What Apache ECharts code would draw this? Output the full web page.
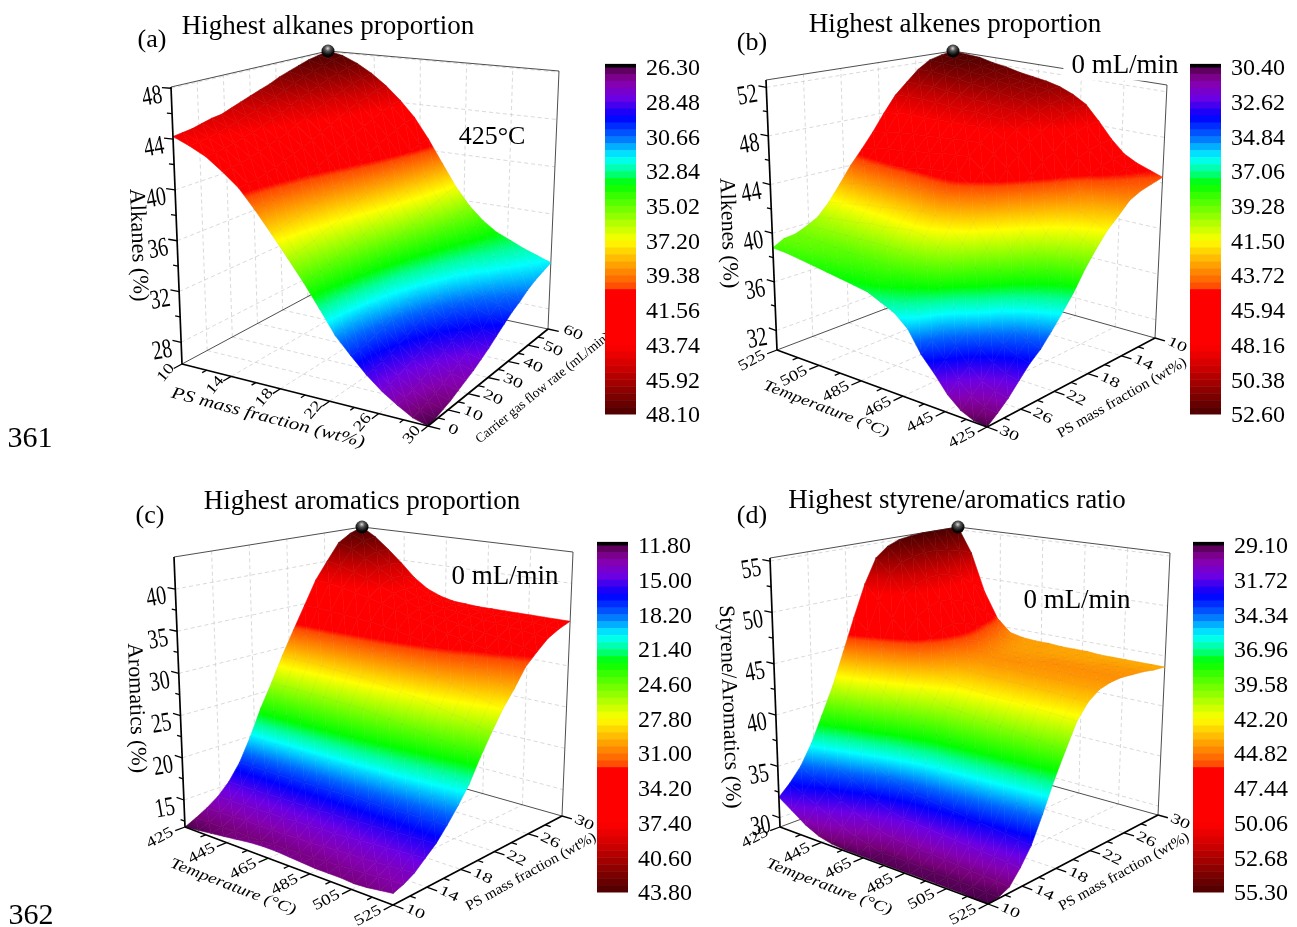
<!DOCTYPE html>
<html><head><meta charset="utf-8">
<style>html,body{margin:0;padding:0;background:#fff}#c{width:1297px;height:927px}</style>
<script src="https://cdn.jsdelivr.net/npm/echarts@6/dist/echarts.min.js"></script>
</head><body><div id="c"></div>
<script>
// Surface heights. Rows run from the left-front edge to the back-right edge.
const alkanesGrid = [
[44.2,43.6,42.9,41.9,40.8,39.3,37.7,36.1,34.5,32.8,31.1,29.9,28.8,27.9,27.2,26.6,26.3],
[44.3,43.7,43.0,42.0,40.9,39.4,37.8,36.2,34.6,32.9,31.2,30.0,28.9,28.0,27.3,26.7,26.4],
[44.4,43.8,43.1,42.1,41.0,39.5,38.0,36.3,34.7,33.0,31.3,30.1,29.0,28.2,27.5,26.9,26.6],
[44.6,44.0,43.3,42.3,41.2,39.7,38.2,36.5,34.9,33.2,31.5,30.3,29.2,28.4,27.7,27.1,26.8],
[44.8,44.2,43.5,42.5,41.4,40.0,38.4,36.8,35.1,33.4,31.7,30.5,29.5,28.6,28.0,27.4,27.1],
[44.9,44.4,43.7,42.8,41.7,40.2,38.7,37.0,35.4,33.6,32.0,30.8,29.7,28.9,28.3,27.7,27.4],
[45.2,44.7,44.0,43.0,42.0,40.5,39.0,37.3,35.6,33.9,32.2,31.1,30.0,29.2,28.6,28.0,27.7],
[45.5,44.9,44.3,43.3,42.3,40.9,39.3,37.7,35.9,34.2,32.5,31.4,30.4,29.6,29.0,28.4,28.1],
[45.8,45.3,44.6,43.7,42.6,41.3,39.7,38.1,36.3,34.5,32.9,31.7,30.8,30.0,29.4,28.9,28.5],
[46.1,45.6,45.0,44.1,43.0,41.7,40.2,38.5,36.7,34.9,33.3,32.1,31.2,30.4,29.8,29.3,29.0],
[46.4,46.0,45.4,44.5,43.4,42.1,40.6,38.9,37.1,35.3,33.7,32.5,31.6,30.9,30.3,29.9,29.5],
[46.8,46.4,45.7,44.9,43.8,42.5,41.1,39.3,37.5,35.6,34.1,32.9,32.0,31.4,30.8,30.4,30.0],
[47.1,46.7,46.1,45.2,44.2,42.9,41.5,39.7,37.8,36.0,34.4,33.3,32.4,31.8,31.3,30.8,30.4],
[47.4,47.0,46.4,45.6,44.6,43.3,41.9,40.1,38.2,36.3,34.8,33.7,32.8,32.3,31.7,31.3,30.9],
[47.7,47.3,46.7,45.9,44.9,43.7,42.2,40.5,38.5,36.6,35.1,34.0,33.2,32.6,32.1,31.7,31.3],
[47.9,47.6,47.0,46.2,45.2,44.0,42.6,40.8,38.8,36.9,35.4,34.3,33.5,32.9,32.4,32.0,31.6],
[48.1,47.8,47.2,46.4,45.4,44.2,42.8,41.0,39.0,37.1,35.6,34.5,33.7,33.2,32.7,32.3,31.9]];
const alkenesGrid = [
[38.8,38.7,38.5,38.3,38.1,37.9,37.7,37.5,37.0,36.5,35.6,34.0,32.9,31.7,30.9,30.5,30.4],
[39.3,39.2,39.1,38.9,38.8,38.6,38.4,38.3,37.8,37.3,36.4,34.8,33.6,32.4,31.6,31.1,31.0],
[39.4,39.4,39.3,39.2,39.1,39.1,39.0,38.9,38.5,38.0,37.1,35.5,34.3,33.1,32.3,31.9,31.7],
[39.8,39.9,39.9,39.9,39.9,39.9,39.9,39.9,39.6,39.1,38.2,36.5,35.3,34.1,33.3,32.8,32.6],
[40.3,40.5,40.6,40.7,40.9,40.9,41.1,41.2,41.0,40.4,39.4,37.8,36.5,35.2,34.3,33.8,33.5],
[41.3,41.5,41.7,41.9,42.0,42.2,42.3,42.5,42.4,41.7,40.7,39.0,37.6,36.2,35.2,34.6,34.2],
[42.6,42.9,43.1,43.3,43.5,43.6,43.8,44.0,44.0,43.2,42.1,40.3,38.8,37.4,36.4,35.7,35.2],
[44.0,44.3,44.5,44.7,44.8,45.0,45.2,45.3,45.3,44.5,43.4,41.7,40.1,38.6,37.6,36.9,36.3],
[45.2,45.5,45.7,45.8,46.0,46.1,46.3,46.4,46.5,45.6,44.6,42.8,41.2,39.8,38.7,38.0,37.5],
[46.5,46.7,46.9,47.0,47.1,47.2,47.3,47.4,47.4,46.7,45.7,44.1,42.5,41.1,40.2,39.5,39.0],
[48.0,48.2,48.3,48.2,48.3,48.3,48.3,48.4,48.3,47.6,46.6,45.1,43.5,42.2,41.4,40.8,40.3],
[49.4,49.5,49.5,49.4,49.3,49.2,49.2,49.1,49.0,48.3,47.5,46.0,44.5,43.3,42.5,42.0,41.5],
[50.4,50.4,50.4,50.2,50.1,49.9,49.8,49.7,49.5,48.9,48.1,46.6,45.1,43.9,43.2,42.8,42.4],
[51.4,51.4,51.3,51.1,50.9,50.7,50.5,50.3,50.1,49.5,48.8,47.5,46.1,44.9,44.3,43.8,43.4],
[52.1,52.0,51.9,51.6,51.5,51.2,51.0,50.8,50.5,49.9,49.2,47.9,46.5,45.4,44.8,44.3,43.9],
[52.4,52.3,52.2,51.9,51.7,51.4,51.2,51.0,50.8,50.2,49.5,48.2,46.8,45.7,45.1,44.6,44.2],
[52.6,52.5,52.4,52.1,51.9,51.6,51.4,51.2,50.9,50.4,49.7,48.4,47.0,45.9,45.3,44.9,44.5]];
const aromaticsGrid = [
[11.8,12.0,12.2,12.4,12.6,12.8,12.9,12.9,12.8,12.7,12.6,12.6,12.6,12.5,12.6,12.8,13.0],
[12.4,12.4,12.4,12.5,12.5,12.5,12.6,12.6,12.7,12.7,12.8,12.9,13.0,13.1,13.2,13.3,13.4],
[13.1,13.1,13.1,13.2,13.2,13.2,13.2,13.3,13.3,13.4,13.5,13.6,13.6,13.7,13.8,13.9,14.0],
[14.0,14.0,14.0,14.1,14.1,14.1,14.2,14.2,14.3,14.3,14.4,14.5,14.6,14.7,14.8,14.9,15.0],
[15.3,15.3,15.3,15.3,15.4,15.4,15.4,15.4,15.5,15.5,15.6,15.7,15.7,15.8,15.9,15.9,16.0],
[17.2,17.2,17.2,17.2,17.2,17.2,17.2,17.2,17.3,17.3,17.3,17.3,17.3,17.3,17.4,17.4,17.4],
[19.9,19.9,19.9,19.8,19.8,19.8,19.8,19.7,19.7,19.6,19.5,19.5,19.4,19.3,19.2,19.1,19.0],
[23.1,23.1,23.0,23.0,22.9,22.8,22.7,22.6,22.5,22.3,22.1,22.0,21.7,21.5,21.3,21.0,20.8],
[25.9,25.8,25.8,25.7,25.7,25.6,25.5,25.4,25.2,25.0,24.8,24.6,24.3,24.1,23.8,23.6,23.3],
[29.0,28.9,28.9,28.8,28.7,28.6,28.5,28.3,28.1,27.8,27.6,27.3,27.0,26.6,26.3,25.9,25.6],
[31.9,31.8,31.7,31.7,31.5,31.4,31.2,31.0,30.8,30.5,30.2,29.9,29.4,29.0,28.6,28.2,27.8],
[34.8,34.7,34.6,34.5,34.3,34.2,34.0,33.7,33.4,33.0,32.6,32.2,31.7,31.2,30.6,30.1,29.6],
[37.8,37.6,37.3,37.0,36.6,36.2,35.7,35.2,34.7,34.3,33.9,33.6,33.2,32.9,32.5,32.1,31.7],
[40.0,39.6,39.1,38.5,37.8,37.1,36.4,35.8,35.3,35.0,34.7,34.4,34.2,33.9,33.6,33.3,33.0],
[42.2,41.6,40.6,39.6,38.5,37.4,36.6,36.1,35.7,35.5,35.3,35.1,34.9,34.8,34.6,34.4,34.2],
[43.2,42.4,41.2,39.9,38.5,37.3,36.6,36.1,35.8,35.6,35.5,35.3,35.3,35.2,35.1,35.0,34.9],
[43.8,42.7,41.2,39.6,37.9,36.7,36.0,35.6,35.5,35.4,35.4,35.4,35.4,35.4,35.4,35.4,35.4]];
const styreneGrid = [
[32.0,31.1,30.2,29.6,29.3,29.2,29.2,29.2,29.2,29.2,29.2,29.2,29.2,29.2,29.2,29.1,29.1],
[33.0,32.4,31.7,31.1,30.5,30.0,29.7,29.4,29.4,29.4,29.4,29.3,29.3,29.3,29.3,29.2,29.2],
[34.3,33.6,32.9,32.2,31.6,31.0,30.6,30.3,30.2,30.1,30.1,30.0,29.9,29.8,29.8,29.7,29.6],
[36.2,35.4,34.6,33.9,33.1,32.5,32.0,31.7,31.6,31.5,31.4,31.3,31.2,31.1,31.0,30.9,30.8],
[38.7,37.8,36.9,36.1,35.3,34.5,34.0,33.6,33.5,33.3,33.2,33.0,32.9,32.7,32.6,32.4,32.3],
[41.3,40.4,39.5,38.7,37.8,37.1,36.6,36.1,35.9,35.8,35.6,35.4,35.3,35.1,34.9,34.8,34.6],
[44.5,43.5,42.4,41.4,40.4,39.6,39.0,38.5,38.4,38.2,38.1,37.9,37.8,37.6,37.5,37.3,37.2],
[47.8,46.6,45.3,44.2,43.0,42.0,41.3,40.8,40.7,40.5,40.4,40.2,40.1,39.9,39.8,39.6,39.5],
[51.0,49.5,47.9,46.6,45.2,43.9,43.1,42.6,42.5,42.4,42.3,42.3,42.2,42.1,42.0,41.9,41.8],
[53.5,52.0,50.1,48.1,46.2,44.7,44.0,43.7,43.6,43.6,43.5,43.5,43.4,43.4,43.3,43.3,43.2],
[54.5,53.0,50.9,48.8,46.8,45.2,44.5,44.2,44.2,44.1,44.1,44.1,44.1,44.1,44.0,44.0,44.0],
[55.0,53.4,51.3,49.2,47.0,45.5,44.7,44.4,44.4,44.4,44.3,44.3,44.3,44.3,44.3,44.3,44.3],
[55.2,53.6,51.4,49.0,46.8,45.3,44.6,44.3,44.3,44.3,44.4,44.4,44.4,44.4,44.4,44.4,44.4],
[55.3,53.6,51.2,48.6,46.3,45.0,44.4,44.2,44.2,44.2,44.3,44.3,44.3,44.3,44.3,44.3,44.3],
[55.3,53.4,50.6,47.8,45.7,44.7,44.2,44.1,44.1,44.1,44.1,44.1,44.1,44.2,44.2,44.2,44.2],
[55.3,53.1,49.7,46.8,45.1,44.4,44.1,44.1,44.0,44.0,44.0,44.0,44.0,44.0,44.0,44.0,44.0],
[55.3,52.6,48.5,45.8,44.5,44.2,44.1,44.1,44.0,44.0,44.0,43.9,43.9,43.9,43.9,43.9,43.9]];

const alkanesBar = ['26.30','28.48','30.66','32.84','35.02','37.20','39.38','41.56','43.74','45.92','48.10'];
const alkenesBar = ['30.40','32.62','34.84','37.06','39.28','41.50','43.72','45.94','48.16','50.38','52.60'];
const aromaticsBar = ['11.80','15.00','18.20','21.40','24.60','27.80','31.00','34.20','37.40','40.60','43.80'];
const styreneBar = ['29.10','31.72','34.34','36.96','39.58','42.20','44.82','47.44','50.06','52.68','55.30'];
const psUp = [10,14,18,22,26,30];
const psDown = [30,26,22,18,14,10];
const flowTicks = [0,10,20,30,40,50,60];
const tempUp = [425,445,465,485,505,525];
const tempDown = [525,505,485,465,445,425];

const cmapPos = [0,.02,.05,.09,.145,.20,.262,.30,.336,.50,.60,.635,.65,.80,.86,1];
const cmapCol = ['#480048','#760078','#8400b0','#6c00e4','#0000ff','#0064ff','#00ffff','#00ff96','#00ff00','#ffff00','#ff7a00','#ff4800','#ff0000','#ff0000','#d40000','#4a0000'];
const BANDS = 50;

// Corners of the plot box: [floor, top] on the canvas, used only as the projection.
const panels = [
 {grid:alkanesGrid, bar:alkanesBar, uT:psUp, vT:flowTicks, zT:[28,32,36,40,44,48],
  L:[[182,364],[171,87]], F:[[428,426],[432,106]], R:[[548,329],[559,71]], B:[[333,283],[328,51]],
  cb:[605,69,31,347], uRot:50, uOff:[-16,9], vOff:[25,4], vRot:-24,
  uTitle:['PS mass fraction (wt%)',268,418,-14.5,21,1], vTitle:['Carrier gas flow rate (mL/min)',543,388,39,17,.8], zTitle:['Alkanes (%)',138,245,-88,22.5,1]},
 {grid:alkenesGrid, bar:alkenesBar, uT:tempDown, vT:psDown, zT:[32,36,40,44,48,52],
  L:[[777,350],[766,80]], F:[[987,427],[991,118]], R:[[1155,338],[1167,85]], B:[[956,282],[953,51]],
  cb:[1190,69,31,347], uRot:28, uOff:[-25,11], vOff:[22,7], vRot:-26,
  uTitle:['Temperature (°C)',826,409,-21,19,1], vTitle:['PS mass fraction (wt%)',1122,398,30,18,.86], zTitle:['Alkenes (%)',728,233,-88,22,1]},
 {grid:aromaticsGrid, bar:aromaticsBar, uT:tempUp, vT:psUp, zT:[15,20,25,30,35,40],
  L:[[185,827],[174,557]], F:[[393,905],[397,596]], R:[[562,816],[573,552]], B:[[364,760],[362,527]],
  cb:[597,547,31,347], uRot:28, uOff:[-25,11], vOff:[22,7], vRot:-26,
  uTitle:['Temperature (°C)',233,887,-21,19,1], vTitle:['PS mass fraction (wt%)',531,872,29,18,.86], zTitle:['Aromatics (%)',136,708,-88,22,1]},
 {grid:styreneGrid, bar:styreneBar, uT:tempUp, vT:psUp, zT:[30,35,40,45,50,55],
  L:[[780,827],[770,558]], F:[[988,904],[992,596]], R:[[1158,815],[1170,553]], B:[[960,760],[958,527]],
  cb:[1193,547,31,347], uRot:28, uOff:[-25,11], vOff:[22,7], vRot:-26,
  uTitle:['Temperature (°C)',829,887,-21,19,1], vTitle:['PS mass fraction (wt%)',1124,872,29,18,.86], zTitle:['Styrene/Aromatics (%)',729,707,-88,22,1]}
];
const notes = [
 ['(a)',152,40,26],['(b)',752,43,26],['(c)',150,516,26],['(d)',752,516,26],
 ['425°C',492,137,26],['0 mL/min',505,577,27],['0 mL/min',1077,601,27],
 ['361',30,439,30],['362',31,916,30]];
const titles = [['Highest alkanes proportion',328,13.5],['Highest alkenes proportion',955,11.5],
 ['Highest aromatics proportion',362,488.5],['Highest styrene/aromatics ratio',957,487.5]];
const FONT = '"Liberation Serif","Times New Roman",serif';

function hex(c){return [parseInt(c.slice(1,3),16),parseInt(c.slice(3,5),16),parseInt(c.slice(5,7),16)];}
function cmap(t){
  t=Math.max(0,Math.min(1,t));
  for(let i=1;i<cmapPos.length;i++) if(t<=cmapPos[i]){
    const a=hex(cmapCol[i-1]),b=hex(cmapCol[i]),k=(t-cmapPos[i-1])/(cmapPos[i]-cmapPos[i-1]);
    return 'rgb('+a.map((v,n)=>Math.round(v+(b[n]-v)*k)).join(',')+')';
  }
  return cmapCol[cmapCol.length-1];
}
function project(p,u,v,f){
  const bil=s=>[0,1].map(k=>(1-v)*((1-u)*p.L[s][k]+u*p.F[s][k])+v*((1-u)*p.B[s][k]+u*p.R[s][k]));
  const a=bil(0),b=bil(1);
  return [a[0]+(b[0]-a[0])*f,a[1]+(b[1]-a[1])*f];
}
panels.forEach(p=>{
  p.zMin=parseFloat(p.bar[0]);p.zMax=parseFloat(p.bar[p.bar.length-1]);
  p.fr=z=>(z-p.zMin)/(p.zMax-p.zMin);
});

function triStyle(pts,fs){
  const [a,b,c]=pts;
  const lo=Math.min(fs[0],fs[1],fs[2]),hi=Math.max(fs[0],fs[1],fs[2]);
  const solid=()=>{const col=cmap((lo+hi)/2);return {fill:col,stroke:col,lineWidth:.6};};
  if(hi-lo<1e-4) return solid();
  const d1=[b[0]-a[0],b[1]-a[1]],d2=[c[0]-a[0],c[1]-a[1]],e1=fs[1]-fs[0],e2=fs[2]-fs[0];
  const det=d1[0]*d2[1]-d1[1]*d2[0];
  if(Math.abs(det)<1e-6) return solid();
  const gx=(e1*d2[1]-e2*d1[1])/det,gy=(d1[0]*e2-d2[0]*e1)/det,g2=gx*gx+gy*gy;
  const s=pts[fs.indexOf(lo)],dz=hi-lo;
  const stops=[{offset:0,color:cmap(lo)}];
  cmapPos.forEach(q=>{if(q>lo&&q<hi)stops.push({offset:(q-lo)/dz,color:cmap(q)});});
  stops.push({offset:1,color:cmap(hi)});
  const grad=new echarts.graphic.LinearGradient(s[0],s[1],s[0]+gx/g2*dz,s[1]+gy/g2*dz,stops,true);
  return {fill:grad,stroke:grad,lineWidth:.6};
}

function surfaceSeries(p){
  const n=p.grid.length-1,m=p.grid[0].length-1,data=[];
  const P=(i,j)=>[i/m,j/n,p.fr(p.grid[j][i])];
  for(let j=n-1;j>=0;j--) for(let i=0;i<m;i++){
    const a=P(i,j+1),b=P(i+1,j+1),c=P(i+1,j),d=P(i,j);
    data.push([...a,...b,...c],[...a,...c,...d]);
  }
  return {type:'custom',coordinateSystem:'cartesian2d',xAxisIndex:0,yAxisIndex:0,silent:true,animation:false,progressive:0,clip:false,
    encode:{x:0,y:1},data,
    renderItem(params,api){
      const pts=[],fs=[];
      for(let k=0;k<3;k++){
        const f=api.value(3*k+2);
        pts.push(api.coord(project(p,api.value(3*k),api.value(3*k+1),f)));fs.push(f);
      }
      return {type:'polygon',shape:{points:pts},style:triStyle(pts,fs),silent:true};
    }};
}
function meshLines(p){
  const n=p.grid.length-1,m=p.grid[0].length-1,out=[];
  for(let j=0;j<=n;j++){const l=[];for(let i=0;i<=m;i++)l.push(project(p,i/m,j/n,p.fr(p.grid[j][i])));out.push(l);}
  for(let i=0;i<=m;i++){const l=[];for(let j=0;j<=n;j++)l.push(project(p,i/m,j/n,p.fr(p.grid[j][i])));out.push(l);}
  return out.map(l=>({k:'l',pts:l,st:{stroke:'rgba(40,40,40,.07)',lineWidth:.5,fill:null}}));
}
const seg=(p,a,b,st)=>({k:'l',pts:[project(p,...a),project(p,...b)],st:Object.assign({fill:null},st)});
const thin={stroke:'#3a3a3a',lineWidth:.9},dash={stroke:'#cfcfcf',lineWidth:.8,lineDash:[4,3]},thick={stroke:'#000',lineWidth:1.7},tk={stroke:'#000',lineWidth:1.3};

function backItems(p){
  const o=[];
  p.zT.forEach(z=>{const f=p.fr(z);o.push(seg(p,[0,0,f],[0,1,f],dash),seg(p,[0,1,f],[1,1,f],dash));});
  p.uT.forEach((_,i)=>{const u=i/(p.uT.length-1);if(i>0&&i<p.uT.length-1)o.push(seg(p,[u,1,0],[u,1,1],dash),seg(p,[u,0,0],[u,1,0],dash));});
  p.vT.forEach((_,i)=>{const v=i/(p.vT.length-1);if(i>0&&i<p.vT.length-1)o.push(seg(p,[0,v,0],[0,v,1],dash),seg(p,[0,v,0],[1,v,0],dash));});
  o.push(seg(p,[0,0,1],[0,1,1],thin),seg(p,[0,1,1],[1,1,1],thin),seg(p,[1,1,0],[1,1,1],thin),
         seg(p,[0,0,0],[0,1,0],thin),seg(p,[0,1,0],[1,1,0],thin));
  return o;
}
function frontItems(p){
  const o=meshLines(p);
  o.push(seg(p,[0,0,0],[0,0,1],thick),seg(p,[0,0,0],[1,0,0],thick),seg(p,[1,0,0],[1,1,0],thick));
  const txt=(t,q,size,rot,sx,sy,align,extra)=>o.push(Object.assign({k:'t',t,q,size,rot,sx,sy,align},extra||{}));
  const nu=p.uT.length-1,nv=p.vT.length-1;
  for(let i=0;i<=2*nu;i++){const u=i/(2*nu),major=i%2===0;o.push(seg(p,[u,0,0],[u,major?-.055:-.03,0],tk));
    if(major){const q=project(p,u,0,0);txt(String(p.uT[i/2]),[q[0]+p.uOff[0],q[1]+p.uOff[1]],19,p.uRot,1,.8,'center');}}
  for(let i=0;i<=2*nv;i++){const v=i/(2*nv),major=i%2===0;o.push(seg(p,[1,v,0],[major?1.05:1.028,v,0],tk));
    if(major){const q=project(p,1,v,0);txt(String(p.vT[i/2]),[q[0]+p.vOff[0],q[1]+p.vOff[1]],20,p.vRot,1,.7,'center');}}
  const zs=p.zT,dz=zs[1]-zs[0];
  zs.forEach(z=>{const f=p.fr(z);o.push(seg(p,[0,0,f],[-.035,0,f],tk));
    const q=project(p,0,0,f);txt(String(z),[q[0]-9,q[1]+7],27,10,.74,1,'right');
    const m=p.fr(z-dz/2);if(m>=0){o.push(seg(p,[0,0,m],[-.02,0,m],tk));}});
  const T=(a,ital,sy)=>txt(a[0],[a[1],a[2]],a[4],a[3],a[5],sy,'center',{italic:ital});
  T(p.uTitle,true,.8);T(p.vTitle,false,.8);T(p.zTitle,false,1);
  o.push({k:'ball',q:project(p,0,1,1)});
  return o;
}
function overlaySeries(items){
  return {type:'custom',coordinateSystem:'cartesian2d',xAxisIndex:0,yAxisIndex:0,silent:true,animation:false,progressive:0,clip:false,
    encode:{x:0,y:1},data:items.map((_,i)=>[i,i]),
    renderItem(params,api){
      const it=items[params.dataIndex];
      if(it.k==='l') return {type:'polyline',shape:{points:it.pts.map(q=>api.coord(q))},style:it.st,silent:true};
      if(it.k==='ball'){const c=api.coord(it.q);return {type:'circle',shape:{cx:c[0],cy:c[1],r:6.5},silent:true,
        style:{fill:new echarts.graphic.RadialGradient(.48,.3,.62,[{offset:0,color:'#d8d8d8'},{offset:.35,color:'#555'},{offset:.8,color:'#0c0c0c'},{offset:1,color:'#000'}])}};}
      const c=api.coord(it.q);
      return {type:'text',x:c[0],y:c[1],rotation:it.rot*Math.PI/180,scaleX:it.sx,scaleY:it.sy,silent:true,
        style:{text:it.t,fill:'#000',align:it.align,verticalAlign:'middle',font:(it.italic?'italic ':'')+it.size+'px '+FONT,
          backgroundColor:it.bg||null,padding:it.bg?[1,8,1,8]:0}};
    }};
}
const noteItems=notes.map(n=>({k:'t',t:n[0],q:[n[1],n[2]],size:n[3],rot:0,sx:1,sy:1,align:'center'}));
noteItems.push({k:'t',t:'0 mL/min',q:[1125,66],size:27,rot:0,sx:1,sy:1,align:'center',bg:'#fff'});

const grids=[{left:0,top:0,width:1297,height:927}],xAxes=[{type:'value',min:0,max:1297,show:false,gridIndex:0}],
  yAxes=[{type:'value',min:0,max:927,inverse:true,show:false,gridIndex:0}],series=[];
panels.forEach(p=>series.push(overlaySeries(backItems(p))));
panels.forEach(p=>series.push(surfaceSeries(p)));
panels.forEach(p=>series.push(overlaySeries(frontItems(p))));
series.push(overlaySeries(noteItems));
panels.forEach((p,i)=>{
  const g=i+1;
  grids.push({left:p.cb[0],top:p.cb[1],width:p.cb[2],height:p.cb[3]});
  xAxes.push({type:'value',min:0,max:1,show:false,gridIndex:g});
  yAxes.push({type:'value',gridIndex:g,position:'right',inverse:true,min:p.zMin,max:p.zMax,
    splitLine:{show:false},axisLine:{show:false},axisTick:{show:false},
    axisLabel:{customValues:p.bar.map(Number),formatter:v=>v.toFixed(2),margin:10,fontSize:24,color:'#000',fontFamily:FONT,showMinLabel:true,showMaxLabel:true}});
  const span=p.zMax-p.zMin,data=[];
  for(let n=0;n<BANDS;n++) data.push([0,p.zMin+span*n/BANDS,p.zMin+span*(n+1)/BANDS,(n+.5)/BANDS]);
  data.push([0,p.zMin-span*.009,p.zMin,-1]);
  series.push({type:'custom',coordinateSystem:'cartesian2d',xAxisIndex:g,yAxisIndex:g,silent:true,animation:false,clip:false,
    encode:{x:0,y:1},data,
    renderItem(params,api){
      const a=api.coord([0,api.value(1)]),b=api.coord([1,api.value(2)]),t=api.value(3);
      return {type:'rect',shape:{x:a[0],y:a[1]-2,width:b[0]-a[0],height:b[1]-a[1]+.5},style:{fill:t<0?'#000':cmap(t)},silent:true};
    }});
});
const chart=echarts.init(document.getElementById('c'),null,{renderer:'canvas',width:1297,height:927});
chart.setOption({animation:false,backgroundColor:'#fff',
  title:titles.map(t=>({text:t[0],left:t[1],top:t[2],textAlign:'center',padding:0,textStyle:{fontFamily:FONT,fontSize:27,fontWeight:'normal',color:'#000'}})),
  tooltip:{show:false},grid:grids,xAxis:xAxes,yAxis:yAxes,series});
</script></body></html>
